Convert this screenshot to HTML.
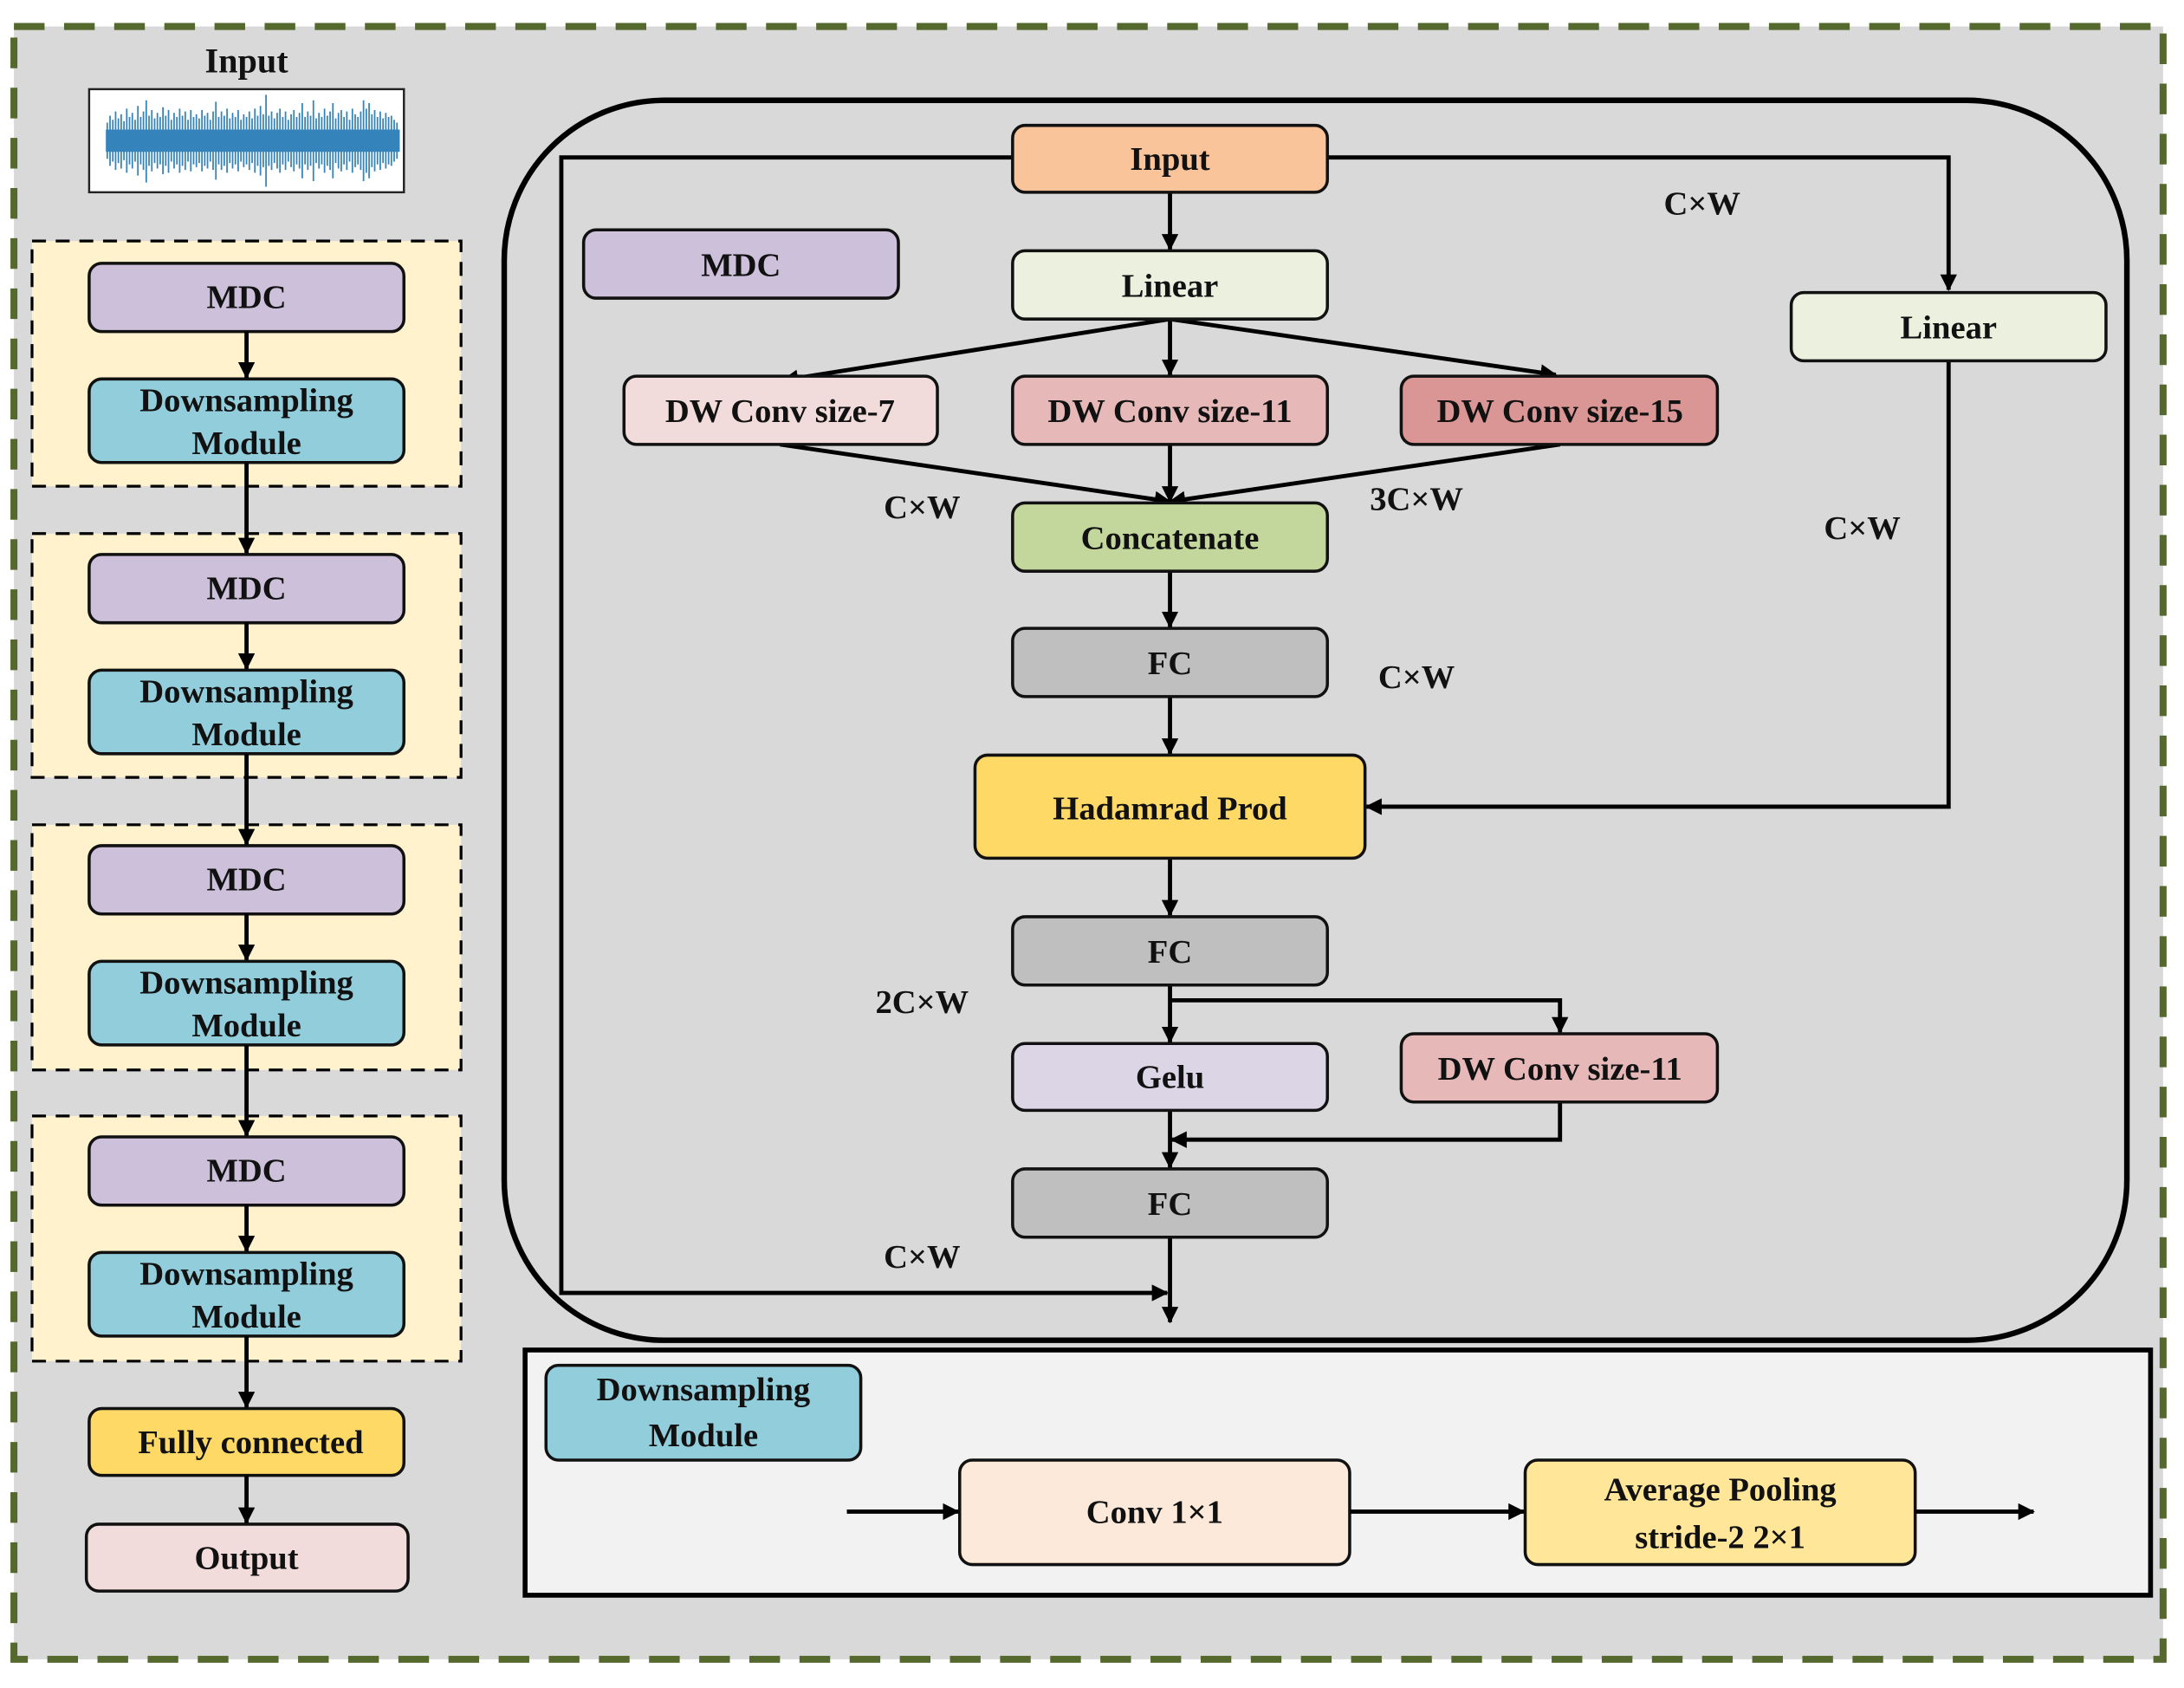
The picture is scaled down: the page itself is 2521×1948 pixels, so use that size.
<!DOCTYPE html>
<html><head><meta charset="utf-8"><style>
html,body{margin:0;padding:0;background:#fff;}
svg{display:block;}
svg text{font-family:"Liberation Serif","Times New Roman",serif !important;font-weight:bold;fill:#111;}
</style></head><body>
<svg width="2521" height="1948" viewBox="0 0 1568 1211.6" preserveAspectRatio="none" xmlns="http://www.w3.org/2000/svg" font-family="Liberation Serif, Times New Roman, serif" font-weight="bold">
<defs>
<marker id="a" markerWidth="12" markerHeight="12" refX="11" refY="6" orient="auto" markerUnits="userSpaceOnUse">
<path d="M0,0 L12,6 L0,12 Z" fill="#000"/></marker>
</defs>
<rect x="0" y="0" width="1568" height="1212" fill="#fff"/>
<rect x="10" y="19" width="1543" height="1172" fill="#d9d9d9" stroke="#55692e" stroke-width="5" stroke-dasharray="22,14"/>

<text x="177" y="52" font-size="25" text-anchor="middle">Input</text>
<rect x="64" y="64" width="226" height="74" fill="#fff" stroke="#222" stroke-width="1.5"/>
<g stroke="#1f77b4" stroke-width="1.1" opacity="0.9">
<rect x="76" y="93" width="211" height="16" fill="#1f77b4" stroke="none"/>
<path d="M77,88V114 M79,83V119 M81,86V116 M83,80V122 M85,85V117 M87,82V121 M89,87V115 M91,78V124 M93,84V118 M95,81V121 M97,86V116 M99,76V126 M101,84V118 M103,80V122 M105,72V131 M107,83V119 M109,79V123 M111,85V117 M113,81V121 M115,84V118 M117,77V125 M119,83V119 M121,79V124 M123,86V116 M125,81V121 M127,84V118 M129,78V124 M131,83V119 M133,80V122 M135,86V116 M137,79V123 M139,84V118 M141,82V120 M143,85V117 M145,79V123 M147,83V119 M149,81V121 M151,86V116 M153,80V122 M155,73V129 M157,84V118 M159,80V122 M161,83V119 M163,78V124 M165,85V117 M167,81V121 M169,84V118 M171,79V123 M173,86V116 M175,82V120 M177,84V118 M179,80V122 M181,85V117 M183,78V124 M185,83V119 M187,76V126 M189,82V120 M191,68V134 M193,83V119 M195,80V122 M197,85V117 M199,81V121 M201,78V124 M203,84V118 M205,80V122 M207,86V116 M209,82V120 M211,79V123 M213,84V118 M215,81V121 M217,74V128 M219,84V118 M221,80V122 M223,83V119 M225,72V130 M227,85V117 M229,81V121 M231,84V118 M233,78V124 M235,83V119 M237,80V122 M239,74V128 M241,85V117 M243,81V121 M245,79V123 M247,84V118 M249,80V122 M251,86V116 M253,78V124 M255,82V120 M257,84V118 M259,80V122 M261,72V130 M263,78V124 M265,74V128 M267,82V120 M269,79V123 M271,84V118 M273,80V122 M275,85V117 M277,81V121 M279,84V118 M281,83V119 M283,86V116 M285,88V114"/>
</g>

<g stroke="#000" stroke-width="2" stroke-dasharray="10,7" fill="#fff2cc">
<rect x="23" y="173" width="308" height="176"/>
<rect x="23" y="383" width="308" height="175"/>
<rect x="23" y="592" width="308" height="176"/>
<rect x="23" y="801" width="308" height="176"/>
</g>

<g stroke="#111" stroke-width="2.2">
<rect x="64" y="189" width="226" height="49" rx="9" fill="#cdc0db"/>
<rect x="64" y="272" width="226" height="60" rx="9" fill="#92cddc"/>
<rect x="64" y="398" width="226" height="49" rx="9" fill="#cdc0db"/>
<rect x="64" y="481" width="226" height="60" rx="9" fill="#92cddc"/>
<rect x="64" y="607" width="226" height="49" rx="9" fill="#cdc0db"/>
<rect x="64" y="690" width="226" height="60" rx="9" fill="#92cddc"/>
<rect x="64" y="816" width="226" height="49" rx="9" fill="#cdc0db"/>
<rect x="64" y="899" width="226" height="60" rx="9" fill="#92cddc"/>
<rect x="64" y="1011" width="226" height="48" rx="9" fill="#ffd966"/>
<rect x="62" y="1094" width="231" height="48" rx="9" fill="#f2dcdb"/>
</g>
<g stroke="#000" stroke-width="3" fill="none" marker-end="url(#a)">
<path d="M177,238V271"/><path d="M177,332V397"/>
<path d="M177,447V480"/><path d="M177,541V606"/>
<path d="M177,656V689"/><path d="M177,750V815"/>
<path d="M177,865V898"/><path d="M177,959V1010"/>
<path d="M177,1059V1093"/>
</g>
<g font-size="24" text-anchor="middle">
<text x="177" y="221">MDC</text>
<text x="177" y="295">Downsampling</text><text x="177" y="326">Module</text>
<text x="177" y="430">MDC</text>
<text x="177" y="504">Downsampling</text><text x="177" y="535">Module</text>
<text x="177" y="639">MDC</text>
<text x="177" y="713">Downsampling</text><text x="177" y="744">Module</text>
<text x="177" y="848">MDC</text>
<text x="177" y="922">Downsampling</text><text x="177" y="953">Module</text>
<text x="180" y="1043">Fully connected</text>
<text x="177" y="1126">Output</text>
</g>

<rect x="362" y="72" width="1165" height="890" rx="115" fill="none" stroke="#000" stroke-width="4"/>

<g stroke="#000" stroke-width="3" fill="none">
<path d="M727,113H403V928H838" marker-end="url(#a)"/>
<path d="M953,113H1399V208" marker-end="url(#a)"/>
<path d="M840,138V179" marker-end="url(#a)"/>
<path d="M840,229L562,273" marker-end="url(#a)"/>
<path d="M840,229V269" marker-end="url(#a)"/>
<path d="M840,229L1117,269" marker-end="url(#a)"/>
<path d="M560,319L840,360" marker-end="url(#a)"/>
<path d="M840,319V360" marker-end="url(#a)"/>
<path d="M1120,319L840,360" marker-end="url(#a)"/>
<path d="M840,410V450" marker-end="url(#a)"/>
<path d="M840,500V541" marker-end="url(#a)"/>
<path d="M1399,259V579H981" marker-end="url(#a)"/>
<path d="M840,616V657" marker-end="url(#a)"/>
<path d="M840,707V748" marker-end="url(#a)"/>
<path d="M840,718H1120V741" marker-end="url(#a)"/>
<path d="M1120,791V818H841" marker-end="url(#a)"/>
<path d="M840,797V838" marker-end="url(#a)"/>
<path d="M840,888V949" marker-end="url(#a)"/>
</g>

<g stroke="#111" stroke-width="2.2">
<rect x="727" y="90" width="226" height="48" rx="9" fill="#f9c499"/>
<rect x="419" y="165" width="226" height="49" rx="9" fill="#cdc0db"/>
<rect x="727" y="180" width="226" height="49" rx="9" fill="#ebf1de"/>
<rect x="1286" y="210" width="226" height="49" rx="9" fill="#ebf1de"/>
<rect x="448" y="270" width="225" height="49" rx="9" fill="#f2dcdb"/>
<rect x="727" y="270" width="226" height="49" rx="9" fill="#e6b9b8"/>
<rect x="1006" y="270" width="227" height="49" rx="9" fill="#d99694"/>
<rect x="727" y="361" width="226" height="49" rx="9" fill="#c3d69b"/>
<rect x="727" y="451" width="226" height="49" rx="9" fill="#bfbfbf"/>
<rect x="700" y="542" width="280" height="74" rx="9" fill="#ffd966"/>
<rect x="727" y="658" width="226" height="49" rx="9" fill="#bfbfbf"/>
<rect x="727" y="749" width="226" height="48" rx="9" fill="#dcd5e6"/>
<rect x="1006" y="742" width="227" height="49" rx="9" fill="#e6b9b8"/>
<rect x="727" y="839" width="226" height="49" rx="9" fill="#bfbfbf"/>
</g>
<g font-size="24" text-anchor="middle">
<text x="840" y="122">Input</text>
<text x="532" y="198">MDC</text>
<text x="840" y="213">Linear</text>
<text x="1399" y="243">Linear</text>
<text x="560" y="303">DW Conv size-7</text>
<text x="840" y="303">DW Conv size-11</text>
<text x="1120" y="303">DW Conv size-15</text>
<text x="840" y="394">Concatenate</text>
<text x="840" y="484">FC</text>
<text x="840" y="588">Hadamrad Prod</text>
<text x="840" y="691">FC</text>
<text x="840" y="781">Gelu</text>
<text x="1120" y="775">DW Conv size-11</text>
<text x="840" y="872">FC</text>
<text x="1222" y="154">C×W</text>
<text x="662" y="372">C×W</text>
<text x="1017" y="366">3C×W</text>
<text x="1337" y="387">C×W</text>
<text x="1017" y="494">C×W</text>
<text x="662" y="727">2C×W</text>
<text x="662" y="910">C×W</text>
</g>

<rect x="377" y="969" width="1167" height="176" fill="#f2f2f2" stroke="#000" stroke-width="3.5"/>
<g stroke="#111" stroke-width="2.2">
<rect x="392" y="980" width="226" height="68" rx="9" fill="#92cddc"/>
<rect x="689" y="1048" width="280" height="75" rx="9" fill="#fde9d9"/>
<rect x="1095" y="1048" width="280" height="75" rx="9" fill="#ffe699"/>
</g>
<g stroke="#000" stroke-width="3" fill="none" marker-end="url(#a)">
<path d="M608,1085H688"/><path d="M969,1085H1094"/><path d="M1375,1085H1460"/>
</g>
<g font-size="24" text-anchor="middle">
<text x="505" y="1005">Downsampling</text><text x="505" y="1038">Module</text>
<text x="829" y="1093">Conv 1×1</text>
<text x="1235" y="1077">Average Pooling</text><text x="1235" y="1111">stride-2 2×1</text>
</g>
</svg>
</body></html>
